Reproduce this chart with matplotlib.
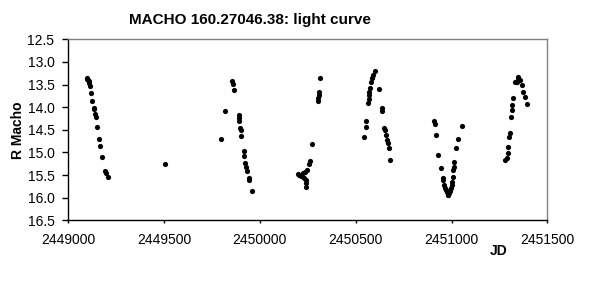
import matplotlib
matplotlib.use("Agg")
import matplotlib.pyplot as plt

plt.rcParams['font.family'] = ['Liberation Sans', 'DejaVu Sans']

jd = [2449096, 2449099, 2449103, 2449106, 2449110, 2449113, 2449118, 2449125, 2449133, 2449135,
      2449141, 2449146, 2449151, 2449162, 2449167, 2449177, 2449192, 2449198, 2449206,
      2449506,
      2449799, 2449819, 2449856, 2449861, 2449866, 2449889, 2449891, 2449892, 2449896, 2449900,
      2449903, 2449919, 2449919, 2449924, 2449929, 2449934, 2449942, 2449945, 2449960,
      2450200, 2450205, 2450214, 2450227, 2450230, 2450236, 2450241, 2450245, 2450241, 2450242,
      2450258, 2450260, 2450273, 2450305, 2450305, 2450307, 2450308, 2450315,
      2450545, 2450555, 2450555, 2450566, 2450568, 2450569, 2450571, 2450575, 2450578, 2450583,
      2450590, 2450599, 2450620, 2450636, 2450639, 2450649, 2450653, 2450660, 2450663, 2450667,
      2450672, 2450681,
      2450910, 2450912, 2450921, 2450931, 2450944, 2450954, 2450958, 2450962, 2450966, 2450971,
      2450975, 2450980, 2450984, 2450988, 2450992, 2450996, 2451000, 2451003, 2451006, 2451008,
      2451011, 2451015, 2451025, 2451035, 2451056,
      2451281, 2451288, 2451293, 2451296, 2451302, 2451304, 2451311, 2451314, 2451316, 2451319,
      2451330, 2451340, 2451345, 2451349, 2451357, 2451366, 2451375, 2451384, 2451396]
mag = [13.35, 13.37, 13.40, 13.43, 13.47, 13.53, 13.68, 13.87, 14.01, 14.03,
       14.15, 14.22, 14.44, 14.71, 14.85, 15.11, 15.41, 15.46, 15.54,
       15.26,
       14.71, 14.09, 13.43, 13.49, 13.61, 14.17, 14.23, 14.31, 14.46, 14.50,
       14.64, 14.97, 15.07, 15.24, 15.33, 15.41, 15.56, 15.61, 15.86,
       15.48, 15.50, 15.52, 15.46, 15.57, 15.43, 15.67, 15.39, 15.60, 15.77,
       15.26, 15.18, 14.82, 13.86, 13.80, 13.73, 13.66, 13.36,
       14.67, 14.43, 14.31, 13.90, 13.83, 13.73, 13.66, 13.58, 13.44, 13.36,
       13.29, 13.19, 13.60, 14.02, 14.08, 14.45, 14.50, 14.61, 14.73, 14.79,
       14.91, 15.17,
       14.31, 14.37, 14.62, 15.06, 15.35, 15.57, 15.62, 15.72, 15.78, 15.83,
       15.88, 15.94, 15.93, 15.90, 15.86, 15.79, 15.72, 15.65, 15.54, 15.39,
       15.32, 15.21, 14.90, 14.71, 14.42,
       15.17, 15.13, 15.01, 14.89, 14.67, 14.56, 14.21, 14.06, 13.95, 13.80,
       13.45, 13.44, 13.34, 13.36, 13.40, 13.51, 13.66, 13.77, 13.94]

xticks = [2449000, 2449500, 2450000, 2450500, 2451000, 2451500]
yticks = [12.5, 13.0, 13.5, 14.0, 14.5, 15.0, 15.5, 16.0, 16.5]

fig = plt.figure(figsize=(5.89, 2.94), dpi=100)
ax = fig.add_axes([68.3/589, 1-220.3/294, (547.3-68.3)/589, (220.3-39.3)/294])
ax.scatter(jd, mag, s=14, c='black', linewidths=0)
ax.set_xlim(2449000, 2451500)
ax.set_ylim(16.5, 12.5)
ax.set_xticks(xticks)
ax.set_xticklabels([str(t) for t in xticks])
ax.set_yticks(yticks)
ax.set_yticklabels([f"{t:.1f}" for t in yticks])
ax.tick_params(axis='x', direction='out', length=2.3, width=1, labelsize=10, colors='black', pad=6.5)
ax.tick_params(axis='y', direction='out', length=4, width=1, labelsize=10, colors='black', pad=6)
for s in ['top', 'right']:
    ax.spines[s].set_color('#808080')
    ax.spines[s].set_linewidth(1)
for s in ['left', 'bottom']:
    ax.spines[s].set_color('black')
    ax.spines[s].set_linewidth(1)

fig.text(250/589, 1-20/294, 'MACHO 160.27046.38: light curve', ha='center', va='center',
         fontsize=11, fontweight='bold')
fig.text(18/589, 1-130/294, 'R Macho', rotation=90, ha='center', va='center',
         fontsize=10, fontweight='bold')
fig.text(499/589, 1-251/294, 'JD', ha='center', va='center', fontsize=10, fontweight='bold')

fig.savefig('out.png', dpi=100)
